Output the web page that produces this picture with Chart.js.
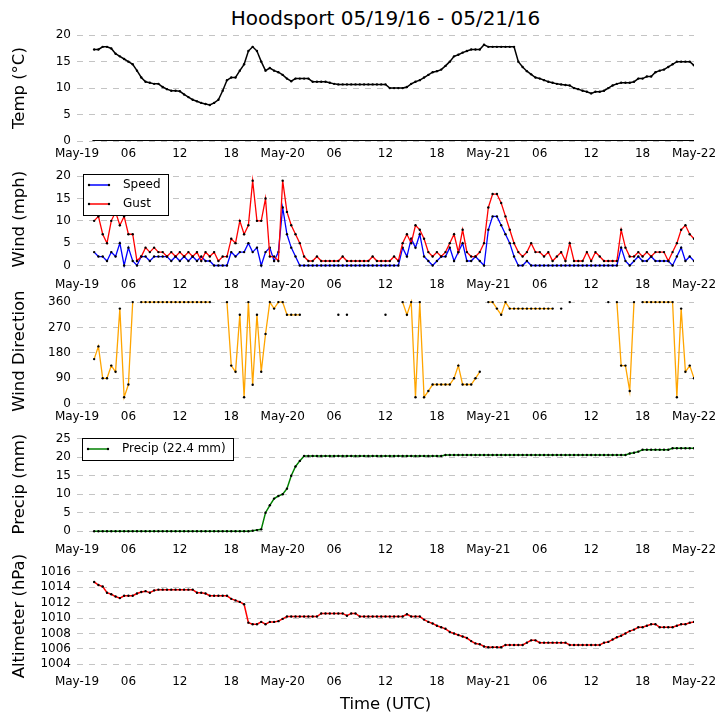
<!DOCTYPE html>
<html>
<head>
<meta charset="utf-8">
<script src="https://cdn.jsdelivr.net/npm/chart.js@4.4.0/dist/chart.umd.min.js"></script>
<style>
body { margin: 0; background: #fff; }
#fig { position: relative; width: 727px; height: 725px; overflow: hidden; background: #fff; }
#fig canvas { position: absolute; left: 0; }
#title { position: absolute; left: 0; top: 6px; width: 771px; text-align: center;
         font: 20px "DejaVu Sans"; line-height: 24px; color: #000; }
</style>
</head>
<body>
<div id="fig">
  <div id="title">Hoodsport 05/19/16 - 05/21/16</div>
  <canvas id="temp"></canvas>
  <canvas id="wind"></canvas>
  <canvas id="dir"></canvas>
  <canvas id="precip"></canvas>
  <canvas id="alt"></canvas>
</div>
<script>
// hours since May-19 00 UTC, one value every half hour (index * 0.5)
var STEP_H = 0.5;
var xTickLabels = ['May-19', '06', '12', '18', 'May-20', '06', '12', '18', 'May-21', '06', '12', '18', 'May-22'];

var tempC = [
    null, null, null, null, 17.3, 17.3, 17.8, 17.8, 17.5, 16.5, 16.0, 15.5,
    15.0, 14.5, 13.3, 12.0, 11.2, 11.0, 10.8, 10.8, 10.2, 9.8, 9.5, 9.5,
    9.4, 8.8, 8.3, 7.8, 7.5, 7.2, 7.0, 6.8, 7.2, 7.8, 9.5, 11.5,
    12.0, 12.0, 13.3, 14.5, 17.0, 17.8, 17.0, 15.0, 13.3, 13.8, 13.3, 13.0,
    12.5, 11.8, 11.3, 11.8, 11.8, 11.8, 11.8, 11.2, 11.2, 11.2, 11.2, 11.0,
    10.8, 10.7, 10.7, 10.7, 10.7, 10.7, 10.7, 10.7, 10.7, 10.7, 10.7, 10.7,
    10.7, 10.0, 10.0, 10.0, 10.0, 10.2, 10.8, 11.2, 11.5, 12.0, 12.5, 13.0,
    13.2, 13.5, 14.2, 15.0, 16.0, 16.3, 16.7, 17.0, 17.3, 17.3, 17.3, 18.2,
    17.8, 17.8, 17.8, 17.8, 17.8, 17.8, 17.8, 15.0, 14.0, 13.2, 12.6, 12.0,
    11.8, 11.5, 11.2, 11.0, 10.8, 10.7, 10.6, 10.5, 10.0, 9.8, 9.5, 9.3,
    9.0, 9.3, 9.3, 9.5, 10.0, 10.5, 10.8, 11.0, 11.0, 11.0, 11.2, 11.8,
    11.8, 12.2, 12.2, 13.0, 13.3, 13.5, 14.0, 14.5, 15.0, 15.0, 15.0, 15.0,
    14.3
];
// second trace in the temperature panel, flat at zero
var baseHours = [1.8, 72];
var baseValues = [0, 0];

var windSpeed = [
    null, null, null, null, 3, 2, 2, 1, 3, 2, 5, 0,
    4, 1, 0, 2, 2, 1, 2, 2, 2, 2, 1, 2,
    1, 2, 1, 2, 1, 2, 1, 1, 0, 0, 0, 0,
    3, 2, 3, 3, 5, 3, 4, 0, 3, 4, 1, 3,
    13, 7, 4, 2, 0, 0, 0, 0, 0, 0, 0, 0,
    0, 0, 0, 0, 0, 0, 0, 0, 0, 0, 0, 0,
    0, 0, 0, 0, 4, 2, 6, 4, 7, 2, 1, 0,
    1, 2, 2, 4, 1, 3, 5, 1, 1, 2, 1, 0,
    8, 11, 11, 9, 7, 5, 2, 0, 0, 1, 0, 0,
    0, 0, 0, 0, 0, 0, 0, 0, 0, 0, 0, 0,
    0, 0, 0, 0, 0, 0, 0, 4, 1, 0, 1, 2,
    1, 1, 2, 1, 1, 1, 1, 0, 2, 4, 1, 2,
    1
];
var windGust = [
    null, null, null, null, 10, 11, 7, 5, 10, 12, 9, 11,
    7, 7, 1, 2, 4, 3, 4, 3, 3, 2, 3, 2,
    3, 2, 3, 2, 3, 1, 3, 2, 3, 1, 2, 2,
    6, 5, 10, 7, 9, 19, 10, 10, 15, 2, 2, 1,
    19, 12, 9, 7, 5, 2, 1, 1, 2, 1, 1, 1,
    1, 1, 2, 1, 1, 1, 1, 1, 1, 2, 1, 1,
    1, 1, 2, 1, 5, 7, 5, 9, 8, 6, 3, 2,
    3, 2, 3, 5, 7, 3, 8, 3, 2, 2, 3, 5,
    13, 16, 16, 14, 11, 8, 5, 3, 2, 3, 5, 3,
    3, 2, 3, 1, 2, 3, 1, 5, 1, 1, 1, 3,
    1, 3, 2, 1, 1, 1, 1, 8, 4, 2, 2, 3,
    2, 3, 2, 3, 3, 3, 1, 3, 5, 8, 9, 7,
    6
];
var windDir = [
    null, null, null, null, 158, 203, 90, 90, 135, 113, 337, 23,
    68, 360, null, 360, 360, 360, 360, 360, 360, 360, 360, 360,
    360, 360, 360, 360, 360, 360, 360, 360, null, null, null, 360,
    135, 113, 315, 23, 360, 67, 315, 113, 247, 360, 337, 360,
    360, 315, 315, 315, 315, null, null, null, null, null, null, null,
    null, 315, null, 315, null, null, null, null, null, null, null, null,
    315, null, null, null, 360, 315, 360, 23, 360, 23, 45, 68,
    68, 68, 68, 68, 90, 135, 68, 68, 68, 90, 113, null,
    360, 360, 337, 315, 360, 337, 337, 337, 337, 337, 337, 337,
    337, 337, 337, 337, null, 337, null, 360, null, null, null, null,
    null, null, null, null, 360, null, 360, 135, 135, 45, 360, null,
    360, 360, 360, 360, 360, 360, 360, 360, 23, 337, 113, 135,
    90
];
var precipMm = [
    null, null, null, null, 0, 0, 0, 0, 0, 0, 0, 0,
    0, 0, 0, 0, 0, 0, 0, 0, 0, 0, 0, 0,
    0, 0, 0, 0, 0, 0, 0, 0, 0, 0, 0, 0,
    0, 0, 0, 0, 0, 0.1, 0.3, 0.5, 5, 7, 8.8, 9.5,
    10, 11.5, 15, 17.5, 19, 20.3, 20.3, 20.3, 20.3, 20.3, 20.3, 20.3,
    20.3, 20.3, 20.3, 20.3, 20.3, 20.3, 20.3, 20.3, 20.3, 20.3, 20.3, 20.3,
    20.3, 20.3, 20.3, 20.3, 20.3, 20.3, 20.3, 20.3, 20.3, 20.3, 20.3, 20.3,
    20.3, 20.3, 20.6, 20.6, 20.6, 20.6, 20.6, 20.6, 20.6, 20.6, 20.6, 20.6,
    20.6, 20.6, 20.6, 20.6, 20.6, 20.6, 20.6, 20.6, 20.6, 20.6, 20.6, 20.6,
    20.6, 20.6, 20.6, 20.6, 20.6, 20.6, 20.6, 20.6, 20.6, 20.6, 20.6, 20.6,
    20.6, 20.6, 20.6, 20.6, 20.6, 20.6, 20.6, 20.6, 20.6, 21.0, 21.2, 21.5,
    22.0, 22.0, 22.0, 22.0, 22.0, 22.0, 22.0, 22.4, 22.4, 22.4, 22.4, 22.4,
    22.4
];
var altimeterHpa = [
    null, null, null, null, 1014.7, 1014.3, 1014.1, 1013.3, 1013.1, 1012.8, 1012.6, 1012.9,
    1012.9, 1012.9, 1013.2, 1013.4, 1013.5, 1013.3, 1013.6, 1013.7, 1013.7, 1013.7, 1013.7, 1013.7,
    1013.7, 1013.7, 1013.7, 1013.7, 1013.3, 1013.3, 1013.2, 1012.9, 1012.9, 1012.9, 1012.9, 1012.9,
    1012.5, 1012.3, 1012.1, 1011.8, 1009.4, 1009.2, 1009.2, 1009.5, 1009.2, 1009.5, 1009.5, 1009.6,
    1009.9, 1010.2, 1010.2, 1010.2, 1010.2, 1010.2, 1010.2, 1010.2, 1010.2, 1010.6, 1010.6, 1010.6,
    1010.6, 1010.6, 1010.6, 1010.3, 1010.6, 1010.6, 1010.2, 1010.2, 1010.2, 1010.2, 1010.2, 1010.2,
    1010.2, 1010.2, 1010.2, 1010.2, 1010.2, 1010.5, 1010.2, 1010.2, 1010.2, 1009.8, 1009.5, 1009.3,
    1009.0, 1008.8, 1008.6, 1008.2, 1008.0, 1007.8, 1007.6, 1007.4, 1007.0, 1006.7, 1006.6, 1006.3,
    1006.2, 1006.2, 1006.2, 1006.2, 1006.5, 1006.5, 1006.5, 1006.5, 1006.5, 1006.8, 1007.1, 1007.1,
    1006.8, 1006.8, 1006.8, 1006.8, 1006.8, 1006.8, 1006.8, 1006.5, 1006.5, 1006.5, 1006.5, 1006.5,
    1006.5, 1006.5, 1006.5, 1006.8, 1006.9, 1007.2, 1007.5, 1007.7, 1008.0, 1008.3, 1008.5, 1008.8,
    1008.8, 1009.0, 1009.2, 1009.2, 1008.8, 1008.8, 1008.8, 1008.8, 1009.0, 1009.2, 1009.2, 1009.4,
    1009.5
];

var FONT = 'DejaVu Sans';
var PANEL_H = 109;
var PAD_TOP = 10;

function toPoints(values) {
    return values.map(function(v, i) { return { x: i * STEP_H, y: v }; });
}

function lineSet(label, values, color, width, showLegend) {
    return {
        label: label,
        data: toPoints(values),
        borderColor: color,
        borderWidth: width,
        pointRadius: 1.2,
        pointBackgroundColor: '#000',
        pointBorderWidth: 0,
        spanGaps: false,
        legend: showLegend
    };
}

// framed legend like the matplotlib one, drawn inside the plot area
var boxLegend = {
    id: 'boxLegend',
    afterDraw: function(chart, args, opts) {
        if (!opts.show) return;
        var items = chart.data.datasets.filter(function(d) { return d.legend; });
        var ctx = chart.ctx;
        var a = chart.chartArea;
        ctx.save();
        ctx.font = '12px "' + FONT + '"';
        var textW = Math.max.apply(null, items.map(function(d) { return ctx.measureText(d.label).width; }));
        var x = Math.round(a.left + opts.dx), y = Math.round(a.top + opts.dy);
        var w = Math.round(6 + 20 + 14 + textW + 7), h = 22 + (items.length - 1) * 19;
        ctx.fillStyle = '#fff';
        ctx.fillRect(x, y, w, h);
        ctx.strokeStyle = '#000';
        ctx.lineWidth = 1;
        ctx.strokeRect(x + 0.5, y + 0.5, w, h);
        items.forEach(function(d, i) {
            var cy = y + 11 + i * 19;
            ctx.strokeStyle = d.borderColor;
            ctx.lineWidth = 1.5;
            ctx.beginPath();
            ctx.moveTo(x + 6, cy);
            ctx.lineTo(x + 26, cy);
            ctx.stroke();
            ctx.fillStyle = '#000';
            [x + 6, x + 26].forEach(function(px) {
                ctx.beginPath();
                ctx.arc(px, cy, 1.2, 0, Math.PI * 2);
                ctx.fill();
            });
            ctx.fillStyle = '#000';
            ctx.textBaseline = 'middle';
            ctx.fillText(d.label, x + 40, cy);
        });
        ctx.restore();
    }
};

function makePanel(id, top, opts) {
    var xh = opts.xHeight || 30;
    var canvas = document.getElementById(id);
    canvas.width = 727;
    canvas.height = PAD_TOP + PANEL_H + xh;
    canvas.style.top = (top - PAD_TOP) + 'px';
    var xTitle = opts.xTitle ? {
        display: true, text: opts.xTitle, color: '#000',
        font: { family: FONT, size: 16.5 }, padding: { top: 0, bottom: 10 }
    } : { display: false };
    return new Chart(canvas.getContext('2d'), {
        type: 'line',
        data: { datasets: opts.datasets },
        plugins: [boxLegend],
        options: {
            responsive: false,
            animation: false,
            events: [],
            layout: { padding: { top: PAD_TOP, right: 33, bottom: 0, left: 0 } },
            plugins: {
                legend: { display: false },
                tooltip: { enabled: false },
                boxLegend: opts.legend || { show: false }
            },
            scales: {
                x: {
                    type: 'linear', min: 0, max: 72,
                    afterFit: function(s) { s.height = xh; },
                    afterBuildTicks: function(s) {
                        s.ticks = xTickLabels.map(function(l, i) { return { value: i * 6 }; });
                    },
                    grid: { display: false, drawTicks: false },
                    border: { display: false },
                    ticks: {
                        autoSkip: false, maxRotation: 0, padding: 6, color: '#000',
                        font: { family: FONT, size: 12 },
                        callback: function(v) { return xTickLabels[Math.round(v / 6)]; }
                    },
                    title: xTitle
                },
                y: {
                    min: opts.min, max: opts.max,
                    afterFit: function(s) { s.width = 77; },
                    afterBuildTicks: function(s) {
                        s.ticks = opts.yTicks.map(function(v) { return { value: v }; });
                    },
                    grid: { color: '#c4c4c4', lineWidth: 1, drawTicks: false },
                    border: { display: false, dash: [6, 6] },
                    ticks: {
                        padding: 6, color: '#000', font: { family: FONT, size: 12 },
                        callback: function(v) { return String(v); }
                    },
                    title: {
                        display: true, text: opts.yTitle, color: '#000',
                        font: { family: FONT, size: 16.5 }, padding: { top: 10, bottom: 0 }
                    }
                }
            }
        }
    });
}

document.addEventListener('DOMContentLoaded', function() {
    var base = {
        label: 'base',
        data: baseHours.map(function(h, i) { return { x: h, y: baseValues[i] }; }),
        borderColor: '#000', borderWidth: 2, pointRadius: 0
    };
    makePanel('temp', 32, {
        yTitle: 'Temp (°C)', min: 0, max: 20, yTicks: [0, 5, 10, 15, 20],
        datasets: [lineSet('Temp', tempC, '#000', 1.5, false), base]
    });

    var speed = lineSet('Speed', windSpeed, '#0000ff', 1.3, true);
    speed.order = 1;
    var gust = lineSet('Gust', windGust, '#ff0000', 1.3, true);
    gust.order = 0;
    makePanel('wind', 163, {
        yTitle: 'Wind (mph)', min: -1.46, max: 22.24, yTicks: [0, 5, 10, 15, 20],
        datasets: [speed, gust],
        legend: { show: true, dx: 6, dy: 8 }
    });

    makePanel('dir', 295, {
        yTitle: 'Wind Direction', min: -1, max: 373.8, yTicks: [0, 90, 180, 270, 360],
        datasets: [lineSet('Direction', windDir, '#ffa500', 1.3, false)]
    });

    makePanel('precip', 428, {
        yTitle: 'Precip (mm)', min: -1.57, max: 27.02, yTicks: [0, 5, 10, 15, 20, 25],
        datasets: [lineSet('Precip (22.4 mm)', precipMm, '#008000', 1.5, true)],
        legend: { show: true, dx: 5, dy: 7 }
    });

    makePanel('alt', 560, {
        yTitle: 'Altimeter (hPa)', min: 1003.37, max: 1017.14,
        yTicks: [1004, 1006, 1008, 1010, 1012, 1014, 1016],
        datasets: [lineSet('Altimeter', altimeterHpa, '#ff0000', 1.5, false)],
        xHeight: 56, xTitle: 'Time (UTC)'
    });
});
</script>
</body>
</html>
